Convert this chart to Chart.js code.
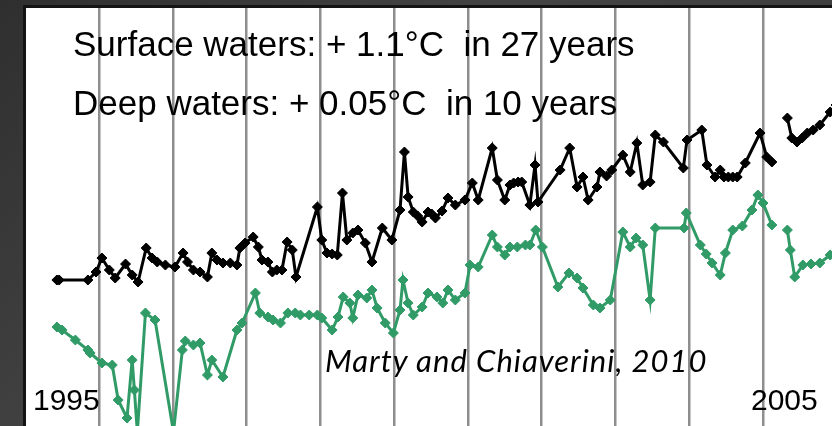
<!DOCTYPE html>
<html>
<head>
<meta charset="utf-8">
<script src="https://cdn.jsdelivr.net/npm/chart.js@4/dist/chart.umd.min.js"></script>
<style>
  html, body { margin: 0; padding: 0; }
  body { width: 832px; height: 426px; overflow: hidden; position: relative;
         background: linear-gradient(135deg, #2f2f2f 0%, #434343 40%, #3a3a3a 100%); }
  #panel { position: absolute; left: 23px; top: 5px; width: 812px; height: 425px;
           background: #fff; border-left: 3px solid #141414; border-top: 3px solid #141414; }
  #wrap { position: absolute; left: 26px; top: 8px; width: 806px; height: 418px; }
  .t { position: absolute; font-family: "Liberation Sans", Arial, sans-serif; color: #000; white-space: pre; line-height: 1; }
  .cite { position: absolute; font-family: Lato, "Open Sans", sans-serif; font-style: italic; color: #000; white-space: pre; line-height: 1; letter-spacing: 1px; }
</style>
</head>
<body>
<div id="panel"></div>
<div id="wrap"><canvas id="c" width="806" height="418"></canvas></div>
<div class="t" style="left:73px; top:26px; font-size:35px;">Surface waters: + 1.1°C  in 27 years</div>
<div class="t" style="left:73px; top:85px; font-size:35px;">Deep waters: + 0.05°C  in 10 years</div>
<div class="cite" style="left:325px; top:345px; font-size:31px;">Marty and Chiaverini, 2010</div>
<div class="t" style="left:33px; top:385px; font-size:30px;">1995</div>
<div class="t" style="left:751px; top:385px; font-size:30px;">2005</div>
<script>
// Surface series (black), decimal years and values (arbitrary °C units)
const blackX = [1995.43,1995.46,1995.85,1995.96,1996.04,1996.14,1996.22,1996.36,1996.45,1996.53,1996.64,1996.72,1996.79,1996.90,
  1997.03,1997.14,1997.20,1997.28,1997.37,1997.47,1997.53,1997.60,1997.68,1997.78,1997.87,1997.91,1997.98,
  1998.09,1998.16,1998.21,1998.29,1998.35,1998.41,1998.48,1998.55,1998.62,1998.67,1998.96,
  1999.02,1999.09,1999.16,1999.23,1999.30,1999.36,1999.44,1999.51,1999.61,1999.70,1999.84,1999.97,
  2000.08,2000.14,2000.19,2000.26,2000.32,2000.38,2000.46,2000.51,2000.56,2000.65,2000.73,2000.83,2000.96,
  2001.06,2001.14,2001.33,2001.40,2001.50,2001.57,2001.62,2001.68,2001.73,2001.84,2001.91,2001.95,
  2002.25,2002.38,2002.48,2002.56,2002.63,2002.75,2002.79,2002.88,2002.95,
  2003.10,2003.20,2003.29,2003.37,2003.47,2003.54,2003.65,2003.92,2003.97,
  2004.17,2004.24,2004.35,2004.42,2004.47,2004.53,2004.59,2004.65,2004.76,2004.96,2005.05,2005.12,
  2005.20,
  2005.33,2005.39,2005.46,2005.53,2005.60,2005.68,2005.77,2005.91,2005.99];
const blackY = [1.46,1.46,1.46,1.54,1.68,1.56,1.48,1.62,1.51,1.44,1.78,1.68,1.64,1.61,
  1.59,1.73,1.64,1.56,1.54,1.49,1.73,1.66,1.63,1.63,1.61,1.78,1.83,
  1.89,1.79,1.66,1.64,1.54,1.56,1.56,1.84,1.76,1.49,2.19,
  1.86,1.73,1.72,1.71,2.33,1.86,1.93,1.96,1.83,1.64,1.98,1.86,
  2.16,2.74,2.29,2.14,2.10,2.04,2.14,2.12,2.08,2.15,2.28,2.21,2.26,
  2.43,2.26,2.78,2.46,2.26,2.41,2.43,2.44,2.44,2.21,2.61,2.24,
  2.56,2.78,2.39,2.49,2.26,2.39,2.54,2.50,2.56,
  2.71,2.54,2.83,2.41,2.44,2.91,2.84,2.58,2.86,
  2.96,2.61,2.49,2.56,2.49,2.49,2.49,2.49,2.63,2.93,2.69,2.64,
  null,
  3.08,2.88,2.84,2.88,2.93,2.96,3.01,3.14,3.21];

// Deep series (green)
const greenX = [1995.43,1995.50,1995.68,1995.85,1995.88,1996.04,1996.18,1996.26,1996.38,1996.45,1996.48,1996.52,1996.63,1996.76,
  1997.01,1997.13,1997.17,1997.28,1997.37,1997.47,1997.53,1997.68,1997.87,1997.94,
  1998.12,1998.18,1998.29,1998.36,1998.46,1998.56,1998.66,1998.73,1998.85,1998.96,
  1999.02,1999.16,1999.24,1999.31,1999.40,1999.44,1999.51,1999.63,1999.70,1999.77,1999.88,1999.99,
  2000.08,2000.12,2000.19,2000.26,2000.38,2000.46,2000.58,2000.66,2000.73,2000.83,2000.96,
  2001.03,2001.14,2001.33,2001.40,2001.50,2001.57,2001.67,2001.78,2001.84,2001.92,
  2002.01,2002.22,2002.37,2002.48,2002.56,2002.70,2002.79,2002.93,
  2003.10,2003.20,2003.28,2003.37,2003.47,2003.54,2003.93,2003.96,
  2004.15,2004.23,2004.31,2004.42,2004.49,2004.59,2004.72,2004.85,2004.93,2005.00,2005.12,
  2005.20,
  2005.33,2005.37,2005.43,2005.54,2005.65,2005.77,2005.91,2005.99];
const greenY = [0.99,0.96,0.86,0.76,0.73,0.63,0.61,0.26,0.08,0.66,0.36,-0.06,1.13,1.06,
  -0.06,0.76,0.85,0.81,0.83,0.51,0.66,0.49,0.96,1.03,
  1.33,1.13,1.09,1.06,1.03,1.13,1.13,1.11,1.11,1.11,
  1.08,0.96,1.09,1.29,1.23,1.08,1.31,1.28,1.36,1.18,1.03,0.93,
  1.16,1.46,1.23,1.11,1.19,1.33,1.29,1.23,1.36,1.26,1.33,
  1.61,1.59,1.91,1.79,1.71,1.79,1.79,1.81,1.81,1.96,
  1.79,1.39,1.53,1.48,1.38,1.21,1.18,1.26,
  1.94,1.79,1.88,1.81,1.26,1.98,1.98,2.13,
  1.81,1.72,1.63,1.51,1.73,1.96,2.00,2.16,2.31,2.23,2.01,
  null,
  1.96,1.76,1.49,1.61,1.62,1.63,1.71,1.74];

const gridYears = [1996,1997,1998,1999,2000,2001,2002,2003,2004,2005];

const toPts = (xs, ys) => xs.map((x, i) => ({ x: x, y: ys[i] }));

new Chart(document.getElementById('c'), {
  type: 'line',
  data: {
    datasets: [
      { data: toPts(blackX, blackY), borderColor: '#000', backgroundColor: '#000',
        borderWidth: 3, pointStyle: 'rectRot', pointRadius: 5, pointBackgroundColor: '#000',
        pointBorderColor: '#000', pointBorderWidth: 1, tension: 0, spanGaps: false },
      { data: toPts(greenX, greenY), borderColor: '#319b67', backgroundColor: '#319b67',
        borderWidth: 3, pointStyle: 'rectRot', pointRadius: 5, pointBackgroundColor: '#319b67',
        pointBorderColor: '#319b67', pointBorderWidth: 1, tension: 0, spanGaps: false }
    ]
  },
  options: {
    responsive: false,
    animation: false,
    devicePixelRatio: 1,
    layout: { padding: 0, autoPadding: false },
    plugins: { legend: { display: false }, tooltip: { enabled: false } },
    scales: {
      x: {
        type: 'linear', min: 1995.011, max: 2005.935,
        afterBuildTicks: (axis) => { axis.ticks = gridYears.map(v => ({ value: v })); },
        ticks: { display: false },
        grid: { color: '#8e8e8e', lineWidth: 2.5, drawTicks: false },
        border: { display: false }
      },
      y: { type: 'linear', min: 0, max: 4.18, display: false }
    }
  }
});
</script>
</body>
</html>
